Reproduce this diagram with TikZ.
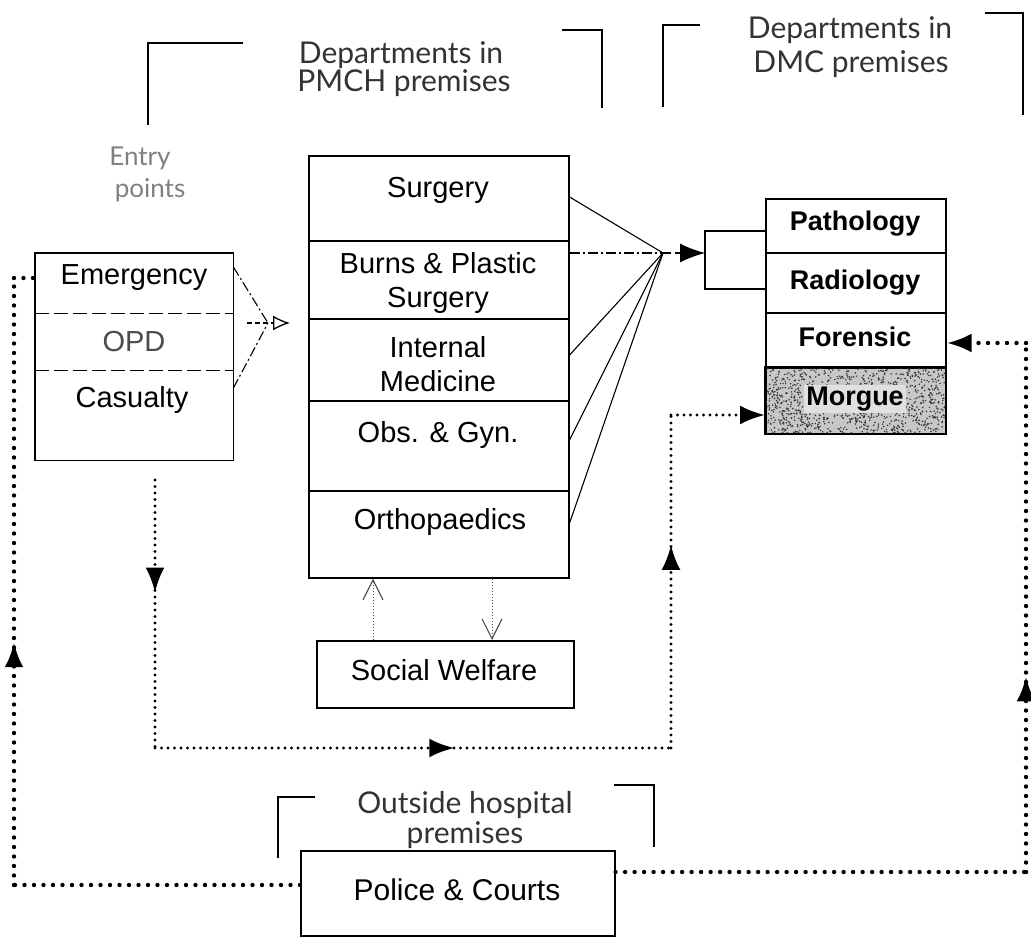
\documentclass[tikz,border=0pt]{standalone}
\usepackage{fontspec}
\setmainfont{Liberation Sans}
\newfontfamily\headfont{Lato}
\usetikzlibrary{arrows.meta,decorations.markings}
\begin{document}
\begin{tikzpicture}[x=1pt,y=-1pt,
  cell/.style={draw, line width=1.6pt, anchor=north west, inner sep=0pt},
  ecell/.style={anchor=north west, inner sep=0pt},
  lbl/.style={font=\fontsize{29}{34}\selectfont, align=center, inner sep=0pt},
  blbl/.style={font=\fontsize{27}{31}\selectfont\bfseries, inner sep=0pt},
  head/.style={font=\headfont\fontsize{30}{34}\selectfont, text=black!80, inner sep=0pt},
  grayhead/.style={font=\headfont\fontsize{26}{30}\selectfont, text=black!50, inner sep=0pt},
  brk/.style={line width=1.4pt},
  hubline/.style={line width=1.1pt},
  bigdot/.style={line width=4.4pt, line cap=round, dash pattern=on 0pt off 9.5pt},
  smalldot/.style={line width=3.2pt, line cap=round, dash pattern=on 0pt off 6.5pt},
  finedot/.style={line width=0.9pt, black!70, dash pattern=on 1.5pt off 1.5pt},
  vtip/.style={-{Straight Barb[length=20pt,width=20pt,line width=1.1pt]}},
  endtip/.style={-{Latex[length=25pt,width=19pt]}},
  midarrow/.style={postaction={decorate}, decoration={markings, mark=at position #1 with {\arrow{Latex[length=25pt,width=19pt]}}}}
]
\useasboundingbox (0,0) rectangle (1031,941);
\fill[white] (0,0) rectangle (1031,941);

% ---------- headings and brackets ----------
\node[head] (h1a) at (401,55) {Departments in};
\node[head] (h1b) at (404,83) {PMCH premises};
\draw[brk] (148,125) -- (148,43) -- (243,43);
\draw[brk] (562,30) -- (602,30) -- (602,108);

\node[head] (h2a) at (850,30) {Departments in};
\node[head] (h2b) at (851,64) {DMC premises};
\draw[brk] (663,107) -- (663,25) -- (700,25);
\draw[brk] (985,13) -- (1023,13) -- (1023,115);

\node[grayhead] (ent1) at (140,158) {Entry};
\node[grayhead] (ent2) at (150,190) {points};

\node[head] (h3a) at (465,805) {Outside hospital};
\node[head] (h3b) at (465,835) {premises};
\draw[brk] (278,858) -- (278,797) -- (315,797);
\draw[brk] (614,785) -- (654,785) -- (654,847);

% ---------- entry box ----------
\node[ecell, minimum width=198pt, minimum height=60pt] (emg) at (35,253) {};
\node[ecell, minimum width=198pt, minimum height=57pt] (opd) at (35,313) {};
\node[ecell, minimum width=198pt, minimum height=90pt] (cas) at (35,370) {};
\draw[line width=1.3pt] (emg.north west) rectangle (cas.south east);
\draw[line width=1.1pt, dash pattern=on 14pt off 5pt] (emg.south west) -- (emg.south east);
\draw[line width=1.1pt, dash pattern=on 14pt off 5pt] (opd.south west) -- (opd.south east);
\node[lbl] (temg) at (134,278) {Emergency};
\node[lbl, text=black!70] (topd) at (134,342) {OPD};
\node[lbl] (tcas) at (132,400) {Casualty};

% ---------- middle box ----------
\node[cell, minimum width=260pt, minimum height=85pt] (sur) at (308,155) {};
\node[cell, minimum width=260pt, minimum height=78pt] (brn) at (308,240) {};
\node[cell, minimum width=260pt, minimum height=82pt] (imd) at (308,318) {};
\node[cell, minimum width=260pt, minimum height=90pt] (obs) at (308,400) {};
\node[cell, minimum width=260pt, minimum height=87pt] (ort) at (308,490) {};
\node[lbl] (tsur) at (438,190) {Surgery};
\node[lbl] (tbrn) at (438,283) {Burns \& Plastic\\Surgery};
\node[lbl] (timd) at (438,364) {Internal\\Medicine};
\node[lbl] (tobs) at (438,435) {Obs. \& Gyn.};
\node[lbl] (tort) at (440,522) {Orthopaedics};

% ---------- right box ----------
\node[cell, minimum width=180pt, minimum height=54pt] (pat) at (765,198) {};
\node[cell, minimum width=180pt, minimum height=60pt] (rad) at (765,252) {};
\node[cell, minimum width=180pt, minimum height=55pt] (frn) at (765,312) {};
\node[cell, minimum width=180pt, minimum height=66pt, fill=black!22] (mrg) at (765,367) {};
\begin{scope}
  \clip (mrg.north west) rectangle (mrg.south east);
  \pgfmathsetseed{4242}
  \foreach \i in {1,...,1100} {
    \fill[black!80] ({765+180*rnd},{367+66*rnd}) circle (0.85pt);
  }
\end{scope}
\draw[line width=1.6pt] (mrg.north west) rectangle (mrg.south east);
\node[blbl] (tpat) at (855,224) {Pathology};
\node[blbl] (trad) at (855,283) {Radiology};
\node[blbl] (tfrn) at (855,337) {Forensic};
\node[blbl, fill=black!12, inner sep=2pt] (tmrg) at (855,399) {Morgue};

% ---------- social welfare and police ----------
\node[cell, minimum width=257pt, minimum height=67pt] (sw) at (316,640) {};
\node[lbl] (tsw) at (444,670) {Social Welfare};
\node[cell, minimum width=314pt, minimum height=85pt] (pc) at (300,850) {};
\node[lbl, font=\fontsize{30}{34}\selectfont] (tpc) at (457,890) {Police \& Courts};

% ---------- entry -> departments ----------
\coordinate (conv) at (268,323);
\coordinate (stub) at (247,323);
\coordinate (convtip) at (290,323);
\draw[hubline, dash pattern=on 10pt off 3pt on 2pt off 3pt] ([yshift=-14pt]emg.north east) -- (conv);
\draw[hubline, dash pattern=on 10pt off 3pt on 2pt off 3pt] ([yshift=-18pt]cas.north east) -- (conv);
\draw[hubline, dash pattern=on 5pt off 3pt, -{Latex[open,length=17pt,width=15pt,line width=1.3pt]}] (stub) -- (convtip);

% ---------- departments -> hub -> investigations ----------
\coordinate (hub) at (663,253);
\coordinate (bt) at (705,231);
\coordinate (bb) at (705,289);
\coordinate (bm) at (705,253);
\draw[hubline] ([yshift=-42pt]sur.north east) -- (hub);
\draw[hubline, dash pattern=on 10pt off 3pt on 2pt off 3pt] ([yshift=-13pt]brn.north east) -- (hub);
\draw[hubline] ([yshift=-37pt]imd.north east) -- (hub);
\draw[hubline] ([yshift=-40pt]obs.north east) -- (hub);
\draw[hubline] ([yshift=-33pt]ort.north east) -- (hub);
\draw[hubline, dash pattern=on 8pt off 4pt, endtip] (hub) -- (bm);
\draw[brk] ([yshift=-33pt]pat.north west) -- (bt) -- (bb) -- ([yshift=-37pt]rad.north west);

% ---------- orthopaedics <-> social welfare ----------
\draw[finedot, vtip] ([xshift=57pt]sw.north west) -- ([xshift=65pt]ort.south west);
\draw[finedot, vtip] ([xshift=184pt]ort.south west) -- ([xshift=176pt]sw.north west);

% ---------- entry -> morgue loop ----------
\coordinate (casout) at (155,480);
\coordinate (c1) at (155,748);
\coordinate (c2) at (671,748);
\coordinate (c3) at (671,415);
\draw[smalldot, midarrow=0.42] (casout) -- (c1);
\draw[smalldot, midarrow=0.58] (c1) -- (c2);
\draw[smalldot, midarrow=0.61] (c2) -- (c3);
\draw[smalldot, endtip] (c3) -- ([yshift=-48pt]mrg.north west);

% ---------- police loops ----------
\coordinate (lb) at (14,885);
\coordinate (lt) at (14,278);
\draw[bigdot] ([yshift=-35pt]pc.north west) -- (lb);
\draw[bigdot, midarrow=0.40] (lb) -- (lt);
\draw[bigdot] (lt) -- ([yshift=-25pt]emg.north west);

\coordinate (rb) at (1026,872);
\coordinate (rt) at (1026,343);
\draw[bigdot] ([yshift=-22pt]pc.north east) -- (rb);
\draw[bigdot, midarrow=0.37] (rb) -- (rt);
\draw[bigdot, endtip] (rt) -- ([yshift=-31pt]frn.north east);
\end{tikzpicture}
\end{document}
